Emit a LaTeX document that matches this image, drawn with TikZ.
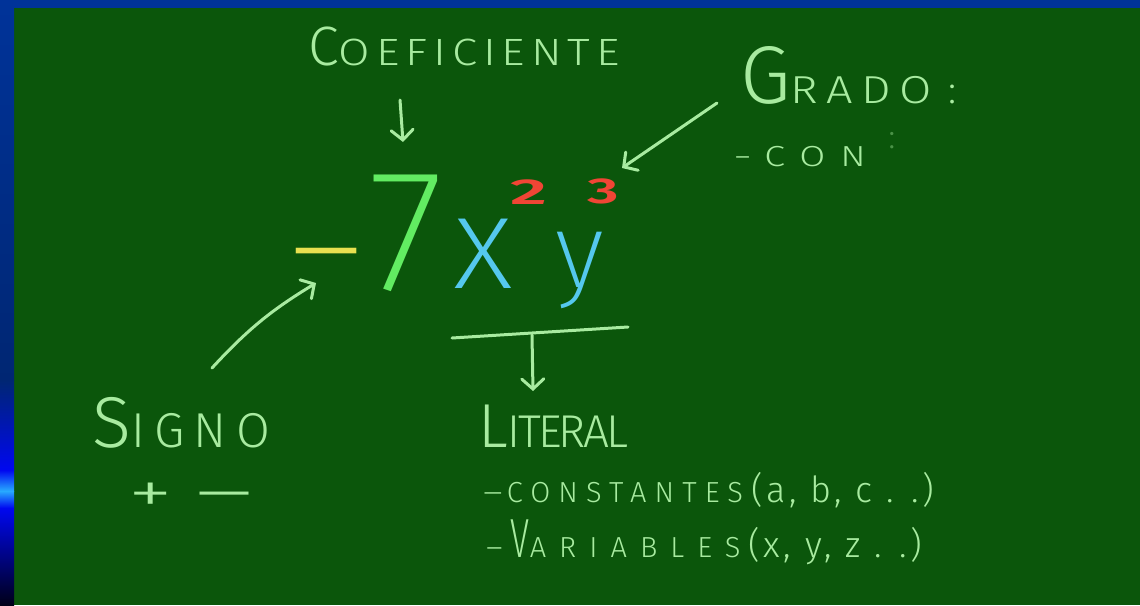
\documentclass[tikz,border=0pt]{standalone}
\usepackage{fontspec}
\setmainfont{Fira Sans}[UprightFont=* Light, BoldFont=* SemiBold]
\newfontfamily\fina{Fira Sans}[UprightFont=* ExtraLight]
\usetikzlibrary{arrows.meta}
\definecolor{pizarra}{HTML}{0B560B}
\definecolor{marco}{HTML}{003399}
\definecolor{tiza}{HTML}{A8EBA0}
\definecolor{verde7}{HTML}{62EC62}
\definecolor{celeste}{HTML}{55C8EE}
\definecolor{rojo}{HTML}{F04535}
\definecolor{amarillo}{HTML}{E8E050}
\newcommand{\ini}[2][1.5]{\scalebox{#1}{#2}}
\newcommand{\fs}[1]{\fontsize{#1}{#1}\selectfont}
\newcommand{\esp}[1]{\addfontfeature{LetterSpace=#1}}
\newcommand{\ancho}[2][1.2]{\scalebox{#1}[1]{#2}}

\begin{document}
\begin{tikzpicture}[x=1pt,y=-1pt,
  letra/.style={text=tiza, inner sep=0pt, anchor=base west},
  glifo/.style={inner sep=0pt},
  flecha/.style={draw=tiza, line width=3pt, line cap=round,
    -{Straight Barb[length=10pt,width=22pt,line cap=round]}}]
  \useasboundingbox (0,0) rectangle (1140,605);
  % pizarra y marco
  \fill[pizarra] (0,0) rectangle (1140,605);
  \fill[marco] (0,0) rectangle (1140,8);
  \shade[top color=marco, bottom color=marco!75!black] (0,0) rectangle (14,380);
  \shade[top color=marco!75!black, bottom color=blue!85!marco] (0,380) rectangle (14,470);
  \shade[top color=blue!85!marco, bottom color={rgb,255:red,40;green,170;blue,255}] (0,470) rectangle (14,491);
  \shade[top color={rgb,255:red,40;green,170;blue,255}, bottom color=blue!85!marco] (0,491) rectangle (14,508);
  \shade[top color=blue!85!marco, bottom color={rgb,255:red,0;green,0;blue,24}] (0,508) rectangle (14,605);

  % monomio
  \node[glifo, text=amarillo, font=\fs{110}] (menos) at (327,268) {\scalebox{1.55}[1]{−}};
  \node[glifo, text=verde7, font=\fina\fs{174}] (siete) at (406,233) {7};
  \node[glifo, text=celeste, font=\fina\fs{133}] (equis) at (483,254) {x};
  \node[glifo, text=celeste, font=\fina\fs{106}] (ye) at (580,270) {y};
  \node[glifo, text=rojo, font=\bfseries\fs{36}] (dos) at (529,192) {\scalebox{2}[1]{2}};
  \node[glifo, text=rojo, font=\bfseries\fs{36}] (tres) at (603,191) {\scalebox{1.7}[1]{3}};

  % rotulos
  \node[letra, font=\fs{38}\esp{13}] (coef) at (308,65) {\ini[1.46]{C}\ancho{OEFICIENTE}};
  \node[letra, font=\fs{39}\esp{18}] (grado) at (740,103) {\ini[2.1]{G}\ancho{RADO}\hspace{16pt}:};
  \node[letra, font=\fs{29}\esp{40}] (con) at (735,166) {–\hspace{14pt}\ancho[1.3]{CON}};
  \node[glifo, text=tiza!40!pizarra, font=\fs{34}] (marca) at (892,141) {:};
  \node[letra, font=\fs{49}\esp{19}] (signo) at (92,447) {\ini[1.47]{S}IGNO};
  \node[letra, font=\fs{60}] (signos) at (128,513) {\scalebox{1.5}[1]{+}\hspace{18pt}\scalebox{2.3}[1]{−}};
  \node[letra, font=\fs{46}\esp{-6}] (literal) at (478,447) {\ini[1.35]{L}ITERAL};
  \node[letra, font=\fs{29}] (const) at (483,502)
    {\scalebox{1.3}[1]{–}\hspace{4pt}{\esp{28}CONSTANTES}\hspace{8pt}{\fs{36}\esp{10}(a, b, c . .)}};
  \node[letra, font=\fs{29}] (vars) at (486,557)
    {\scalebox{1.1}[1]{–}\hspace{8pt}{\esp{45}\scalebox{1.2}[1.9]{V}ARIABLES}\hspace{8pt}{\fs{36}\esp{10}(x, y, z . .)}};

  % flechas
  \coordinate (c1) at (400,100);
  \coordinate (c2) at (403,142);
  \coordinate (g1) at (717,103);
  \coordinate (g2) at (622,168);
  \coordinate (s1) at (212,368);
  \coordinate (s2) at (316,283);
  \coordinate (b1) at (452,338);
  \coordinate (b2) at (628,327);
  \coordinate (l1) at (532,335);
  \coordinate (l2) at (533,391);
  \draw[flecha] (c1) -- (c2);
  \draw[flecha] (g1) -- (g2);
  \draw[flecha] (s1) to[bend left=8] (s2);
  \draw[tiza, line width=3pt, line cap=round] (b1) -- (b2);
  \draw[flecha] (l1) -- (l2);
\end{tikzpicture}
\end{document}
